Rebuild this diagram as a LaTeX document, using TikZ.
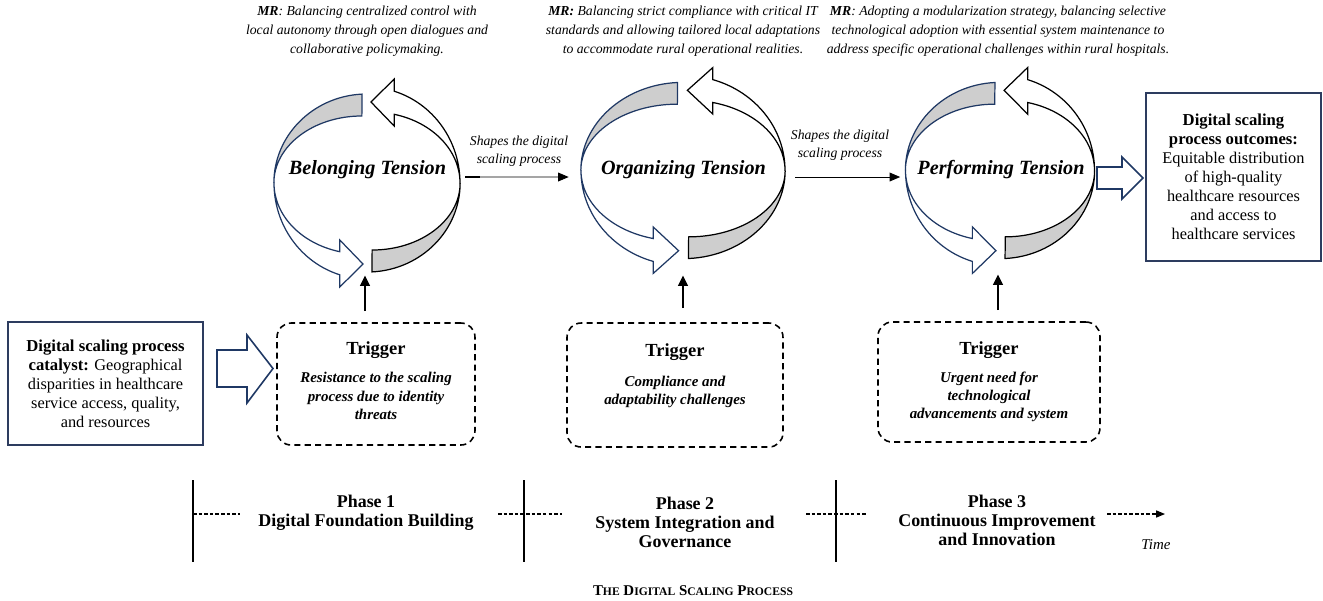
\documentclass[tikz,border=0pt]{standalone}
\usepackage{fontspec}
\setmainfont{Liberation Serif}
\usetikzlibrary{arrows.meta,calc}
\definecolor{navy}{RGB}{31,56,100}
\definecolor{bandgray}{RGB}{206,206,206}
\definecolor{boxc}{RGB}{45,60,95}
\newcommand\hb[1]{{\fontsize{9.5}{10.8}\selectfont\bfseries #1}}
\newcommand\sct[2]{#1{\fontsize{6.6}{8}\selectfont #2}}
\tikzset{
  ringline/.style={line width=0.7pt},
  cyclepic/.pic={
    % right ribbon (black)
    \filldraw[ringline, fill=bandgray, draw=black]
      (5,-88.9) arc[start angle=273,end angle=360,x radius=93,y radius=89]
      arc[start angle=0,end angle=-90,x radius=88,y radius=67] -- cycle;
    \filldraw[ringline, fill=white, draw=black]
      (93,0) arc[start angle=0,end angle=73,x radius=93,y radius=96]
      -- (27.2,104) -- (4,81) -- (27.2,57) -- (27.2,68.7)
      arc[start angle=75.4,end angle=0,x radius=88,y radius=71] -- cycle;
    % left ribbon (navy)
    \filldraw[ringline, fill=bandgray, draw=navy]
      (-5,88.9) arc[start angle=93,end angle=180,x radius=93,y radius=89]
      arc[start angle=180,end angle=90,x radius=88,y radius=67] -- cycle;
    \filldraw[ringline, fill=white, draw=navy]
      (-93,0) arc[start angle=180,end angle=253,x radius=93,y radius=96]
      -- (-27.2,-104) -- (-4,-81) -- (-27.2,-57) -- (-27.2,-68.7)
      arc[start angle=255.4,end angle=180,x radius=88,y radius=71] -- cycle;
  },
  tensiontext/.style={font=\fontsize{11.5}{13}\selectfont\bfseries\itshape, inner sep=0pt},
  mrtext/.style={align=center, inner sep=0pt, font=\fontsize{7.8}{10.8}\selectfont\itshape},
  shapetext/.style={align=center, inner sep=0pt, font=\fontsize{7.8}{10.2}\selectfont\itshape},
  shapearrow/.style={line width=0.5pt, -{Triangle[length=6pt,width=5pt]}},
  bigbox/.style={draw=boxc, line width=1.1pt, align=center, inner sep=0pt, font=\fontsize{9.3}{10.8}\selectfont},
  trigbox/.style={draw=black, line width=0.9pt, dash pattern=on 3.5pt off 2.4pt, rounded corners=8pt, inner sep=0pt},
  trigtitle/.style={inner sep=0pt, font=\fontsize{10.5}{12}\selectfont\bfseries},
  trigdesc/.style={inner sep=0pt, align=center, font=\fontsize{8.5}{10.4}\selectfont\bfseries\itshape},
  trigarrow/.style={line width=1.3pt, -{Triangle[length=6pt,width=5.5pt]}},
  blockarrow/.style={draw=navy, fill=white, line width=0.9pt, line join=miter},
  tline/.style={line width=1.1pt},
  tdash/.style={line width=0.6pt, dash pattern=on 2pt off 1.2pt},
  phase/.style={inner sep=0pt, align=center, font=\fontsize{10.2}{10.8}\selectfont\bfseries}
}
\begin{document}
\begin{tikzpicture}[x=0.02cm, y=0.02cm]
\useasboundingbox (0,0) rectangle (1323,-600);

% ---- MR texts
\node[mrtext] (mr1) at (367,-31) {\textbf{MR}: Balancing centralized control with\\local autonomy through open dialogues and\\collaborative policymaking.};
\node[mrtext] (mr2) at (683,-31) {\textbf{MR:} Balancing strict compliance with critical IT\\standards and allowing tailored local adaptations\\to accommodate rural operational realities.};
\node[mrtext] (mr3) at (998,-31) {\textbf{MR}: Adopting a modularization strategy, balancing selective\\technological adoption with essential system maintenance to\\address specific operational challenges within rural hospitals.};

% ---- cycles
\pic at (367,-183) {cyclepic};
\pic[xscale=1.097, yscale=0.99] at (683,-170.5) {cyclepic};
\pic[xscale=1.016, yscale=0.99] at (1000,-170.5) {cyclepic};
\node[inner sep=0pt, minimum width=3.72cm, minimum height=3.56cm] (cyc1) at (367,-183) {};
\node[inner sep=0pt, minimum width=4.08cm, minimum height=3.52cm] (cyc2) at (683,-170.5) {};
\node[inner sep=0pt, minimum width=3.78cm, minimum height=3.52cm] (cyc3) at (1000,-170.5) {};
\node[tensiontext] (t1) at (367.5,-170) {Belonging Tension};
\node[tensiontext] (t2) at (683.5,-170) {Organizing Tension};
\node[tensiontext] (t3) at (1001,-170) {Performing Tension};

% ---- shapes arrows
\draw[shapearrow] ($(cyc1.east)+(5,6)$) coordinate (s1) -- ($(cyc2.west)+(-12,-6.5)$);
\draw[line width=1.1pt] (s1) -- ++(15,0);
\node[shapetext] (sh1) at (519,-151) {Shapes the digital\\scaling process};
\draw[shapearrow] ($(cyc2.east)+(10,-6.5)$) -- ($(cyc3.west)+(-5,-6.5)$);
\node[shapetext] (sh2) at (840,-145) {Shapes the digital\\scaling process};

% ---- catalyst and outcomes
\node[bigbox, minimum width=3.9cm, minimum height=2.46cm] (cat) at (105.5,-383.5)
  {\hb{Digital scaling process}\\\hb{catalyst:} Geographical\\disparities in healthcare\\service access, quality,\\and resources};
\node[bigbox, minimum width=3.5cm, minimum height=3.36cm] (out) at (1233.5,-177)
  {\hb{Digital scaling}\\\hb{process outcomes:}\\Equitable distribution\\of high-quality\\healthcare resources\\and access to\\healthcare services};

\draw[blockarrow] (217,-350) -- (247,-350) -- (247,-335) -- (273,-368.5) -- (247,-403) -- (247,-387) -- (217,-387) -- cycle;
\draw[blockarrow] (1097,-167) -- (1122,-167) -- (1122,-157) -- (1143,-178) -- (1122,-199) -- (1122,-189) -- (1097,-189) -- cycle;

% ---- triggers
\node[trigbox, minimum width=3.96cm, minimum height=2.44cm] (trig1) at (376,-384) {};
\node[trigbox, minimum width=4.32cm, minimum height=2.48cm] (trig2) at (675,-385) {};
\node[trigbox, minimum width=4.44cm, minimum height=2.4cm] (trig3) at (989,-382) {};
\node[trigtitle] (tt1) at (376,-350) {Trigger};
\node[trigtitle] (tt2) at (675,-352) {Trigger};
\node[trigtitle] (tt3) at (989,-350) {Trigger};
\node[trigdesc] (td1) at (376,-396) {Resistance to the scaling\\process due to identity\\threats};
\node[trigdesc] (td2) at (675,-392) {Compliance and\\adaptability challenges};
\node[trigdesc] (td3) at (989,-397) {Urgent need for\\technological\\advancements and system};

\draw[trigarrow] ($(cyc1.center |- trig1.north)+(-2,11)$) -- ($(cyc1.south)+(-2,-3)$);
\draw[trigarrow] ($(cyc2.center |- trig2.north)+(0,14)$) -- ($(cyc2.south)+(0,-16.5)$);
\draw[trigarrow] ($(cyc3.center |- trig3.north)+(-2,11)$) -- ($(cyc3.south)+(-2,-15.5)$);

% ---- timeline
\draw[tline] (193,-480) -- (193,-562);
\draw[tline] (524,-480) -- (524,-562);
\draw[tline] (836,-480) -- (836,-562);
\draw[tdash] (193,-514) -- (240,-514);
\draw[tdash] (498,-514) -- (562,-514);
\draw[tdash] (806,-514) -- (867,-514);
\draw[tdash, -{Triangle[length=5pt,width=4pt]}] (1107,-514) -- (1165,-514);
\node[phase] (p1) at (366,-513) {Phase 1\\Digital Foundation Building};
\node[phase] (p2) at (685,-522) {Phase 2\\System Integration and\\Governance};
\node[phase] (p3) at (997,-520) {Phase 3\\Continuous Improvement\\and Innovation};
\node[inner sep=0pt, font=\fontsize{8.5}{10}\selectfont\itshape] (time) at (1156,-545) {Time};
\node[inner sep=0pt, font=\fontsize{8.5}{10}\selectfont\bfseries] (cap) at (693,-591) {\sct{T}{HE} \sct{D}{IGITAL} \sct{S}{CALING} \sct{P}{ROCESS}};
\end{tikzpicture}
\end{document}
